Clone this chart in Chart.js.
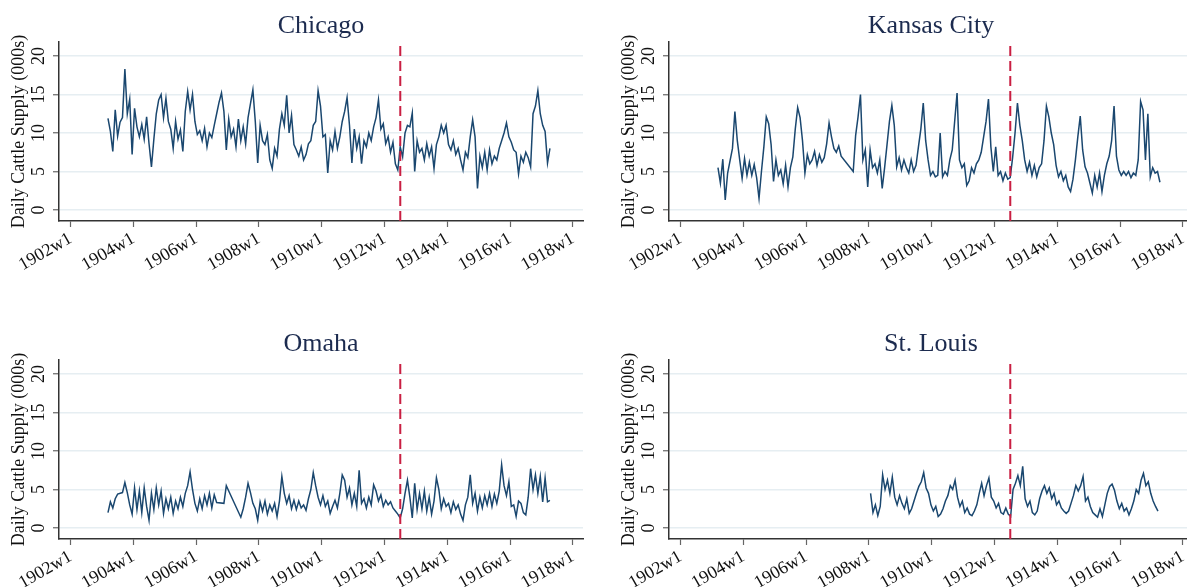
<!DOCTYPE html>
<html>
<head>
<meta charset="utf-8">
<script src="https://cdn.jsdelivr.net/npm/chart.js@4.4.0/dist/chart.umd.min.js"></script>
<style>
  body { margin: 0; background: #fff; overflow: hidden; width: 1187px; height: 587px; position: relative; }
  .panel { position: absolute; width: 600px; height: 300px; }
</style>
</head>
<body>
<div class="panel" style="left:0;top:0"><canvas id="chicago" width="600" height="300"></canvas></div>
<div class="panel" style="left:610px;top:0"><canvas id="kansas" width="600" height="300"></canvas></div>
<div class="panel" style="left:0;top:318px"><canvas id="omaha" width="600" height="300"></canvas></div>
<div class="panel" style="left:610px;top:318px"><canvas id="stlouis" width="600" height="300"></canvas></div>
<script>
// axis ticks and reference date
const xTickYears = [1902, 1904, 1906, 1908, 1910, 1912, 1914, 1916, 1918];
const yTickValues = [0, 5, 10, 15, 20];
const treatYear = 1912.5;
const pointsPerYear = 13; // one reading every 4 weeks

// daily cattle supply (000s), 13 readings a year
const chicagoStart = 1903.19;
const chicagoSupply = [
  11.9, 10.2, 7.6, 13.0, 9.6, 11.4, 12.0, 18.3, 12.5, 14.4, 7.2, 13.2, 10.8,
  9.5, 11.1, 9.2, 12.1, 8.6, 5.6, 9.2, 12.5, 14.3, 15.0, 12.0, 14.5, 11.5,
  10.5, 8.0, 11.5, 9.2, 10.4, 7.6, 12.8, 15.4, 13.0, 15.0, 11.5, 9.8, 10.3,
  9.0, 10.6, 8.2, 10.0, 9.4, 11.0, 12.5, 14.0, 15.2, 12.8, 7.8, 11.8, 9.5,
  10.5, 8.2, 11.8, 9.0, 10.8, 8.6, 12.0, 13.8, 15.6, 11.5, 6.1, 11.0, 9.0,
  8.5, 9.8, 6.5, 5.4, 8.0, 7.0, 10.5, 12.5, 11.0, 14.9, 10.0, 12.3, 8.5,
  7.8, 7.0, 8.2, 6.5, 7.2, 8.6, 9.0, 11.0, 11.5, 15.5, 13.5, 9.5, 9.8,
  4.8, 9.0, 7.8, 10.2, 8.0, 9.5, 11.5, 12.8, 14.6, 11.0, 6.1, 10.5, 8.0,
  9.5, 6.0, 9.0, 8.2, 10.0, 9.0, 10.8, 12.0, 14.3, 10.5, 11.2, 8.6, 9.5,
  7.5, 8.8, 6.0, 5.2, 8.2, 6.9, 10.0, 11.0, 10.8, 12.6, 5.0, 9.0, 7.5,
  8.0, 6.5, 8.6, 7.0, 8.2, 5.4, 8.5, 9.5, 11.0, 10.0, 11.0, 8.5, 7.8,
  9.0, 7.2, 8.0, 6.5, 5.2, 7.5, 6.8, 9.5, 11.7, 9.5, 2.8, 7.0, 5.5,
  7.5, 5.2, 7.8, 6.0, 7.0, 6.5, 8.0, 9.0, 10.0, 11.3, 9.5, 8.8, 7.8,
  7.5, 4.7, 7.0, 6.2, 7.5, 6.8, 5.6, 12.5, 13.5, 15.5, 12.5, 11.0, 10.2,
  6.1, 8.0
];

const kansasStart = 1903.19;
const kansasSupply = [
  5.5, 3.5, 6.6, 1.3, 4.8, null, 8.0, 12.8, 9.0, 6.5, 4.1, 6.7, 4.5,
  6.2, 4.5, 5.9, 4.2, 1.5, 5.0, 8.2, 12.1, 11.2, 8.5, 3.7, 6.5, 4.5,
  5.2, 3.4, 5.8, 3.0, 5.5, 6.9, 10.5, 13.3, 12.0, 9.0, 4.8, 7.2, 6.0,
  6.5, 7.6, 5.8, 7.2, 6.2, 6.8, 8.6, 11.3, 9.5, 8.0, 7.5, 8.3, 7.0,
  null, null, null, null, 5.0, 9.7, 12.1, 15.0, 6.5, 7.8, 3.0, 7.8, 5.5,
  6.0, 4.8, 6.5, 2.8, 5.5, 8.5, 11.5, 13.6, 11.0, 5.6, 6.8, 5.2, 6.5,
  5.5, 4.8, 6.5, 5.0, 5.8, 8.2, 10.5, 13.9, 9.0, 6.5, 4.5, 5.0, 4.3,
  4.5, 10.0, 4.3, 5.0, 4.5, 6.5, 7.8, 11.5, 15.2, 6.5, 5.5, 6.0, 3.2,
  3.8, 5.5, 4.8, 6.0, 6.5, 7.5, 9.5, 11.5, 14.4, 8.2, 5.0, 8.2, 4.5,
  5.0, 3.8, 4.8, 4.0, 4.2, 6.8, 10.0, 13.9, 11.0, 9.0, 6.5, 5.0, 6.2,
  4.5, 5.8, 4.3, 5.5, 6.0, 9.0, 13.5, 12.1, 10.0, 8.5, 5.8, 4.3, 5.0,
  3.8, 4.5, 3.0, 2.4, 4.0, 6.5, 9.5, 12.2, 7.8, 5.6, 4.8, 3.5, 2.2,
  4.5, 3.0, 4.8, 2.4, 4.5, 6.0, 7.0, 9.0, 13.5, 7.0, 5.2, 4.5, 5.0,
  4.5, 5.0, 4.2, 4.8, 4.5, 6.5, 14.1, 13.0, 6.5, 12.5, 4.3, 5.5, 4.8,
  5.0, 3.6
];

const omahaStart = 1903.19;
const omahaSupply = [
  2.0, 3.4, 2.6, 3.8, 4.4, null, 4.6, 5.9, 4.6, 3.0, 1.8, 5.2, 2.4,
  4.8, 2.0, 5.2, 2.8, 1.0, 4.5, 2.4, 5.2, 3.0, 4.8, 1.9, 3.8, 2.5,
  4.0, 1.9, 3.5, 2.5, 4.0, 2.8, 4.5, 5.5, 7.3, 5.0, 3.2, 2.2, 3.8,
  2.5, 4.2, 3.0, 4.5, 2.6, 4.3, 3.3, null, null, 3.2, 5.5, 4.8, null,
  null, null, null, 1.4, 2.5, 4.0, 5.8, 4.6, 3.2, 2.5, 1.0, 3.4, 2.2,
  3.5, 1.8, 3.0, 2.2, 3.2, 1.5, 3.5, 6.7, 4.5, 3.2, 4.2, 2.5, 3.6,
  2.4, 3.5, 2.6, 3.0, 2.3, 3.8, 5.0, 7.2, 5.5, 4.0, 3.0, 4.2, 2.8,
  3.5, 1.9, 2.8, 3.6, 2.6, 4.5, 6.9, 6.2, 4.0, 5.2, 3.0, 4.5, 2.8,
  7.5, 3.2, 3.8, 2.6, 4.0, 3.0, 5.6, 4.8, 3.5, 4.3, 2.8, 3.6, 3.0,
  3.4, 2.6, 2.2, 1.8, 1.3, 2.5, 4.5, 6.2, 4.0, 1.3, 5.8, 2.4, 4.5,
  2.5, 4.8, 2.2, 4.0, 1.8, 3.5, 6.5, 5.0, 2.5, 3.8, 2.8, 3.2, 2.0,
  3.4, 2.4, 3.0, 1.8, 1.0, 3.0, 4.0, 6.9, 3.2, 4.5, 2.2, 4.0, 2.6,
  4.2, 3.0, 4.5, 2.8, 4.4, 3.2, 4.8, 8.2, 5.5, 4.2, 6.0, 2.8, 3.0,
  1.5, 3.5, 3.2, 2.0, 1.7, 4.0, 7.7, 5.0, 6.9, 4.5, 6.7, 3.4, 6.5,
  3.4, 3.6
];

const stLouisStart = 1908.05;
const stLouisSupply = [
  4.5, 2.0, 3.0, 1.6, 2.8, 6.9, 5.0, 6.2, 4.5, 6.6, 4.0, 3.0, 4.2,
  3.2, 2.5, 3.8, 1.9, 2.5, 3.5, 4.5, 5.4, 6.0, 7.2, 5.2, 4.5, 3.0,
  2.2, 2.8, 1.5, 1.8, 2.5, 3.5, 4.2, 5.5, 5.0, 6.2, 4.0, 2.8, 3.5,
  2.0, 2.6, 1.8, 1.6, 2.2, 3.0, 4.5, 5.8, 4.2, 5.5, 6.5, 4.0, 3.5,
  2.6, 3.2, 2.0, 1.8, 2.6, 1.8, 1.5, 5.0, 5.8, 6.8, 5.5, 8.0, 3.8,
  2.8, 3.5, 2.0, 1.7, 2.2, 3.8, 4.8, 5.5, 4.5, 5.2, 3.8, 4.5, 3.0,
  3.5, 2.6, 2.2, 1.9, 2.2, 3.2, 4.2, 5.5, 4.8, 5.5, 6.7, 3.5, 4.0,
  2.8, 2.0, 1.7, 1.4, 2.5, 1.5, 3.0, 4.5, 5.4, 5.7, 4.9, 3.5, 2.5,
  3.2, 2.2, 2.6, 1.7, 2.5, 3.5, 5.0, 4.5, 6.2, 7.1, 5.5, 6.0, 4.5,
  3.5, 2.8, 2.2
];

const xMin = 1901.63, xMax = 1918.32;
const yMin = -1.43, yMax = 21.82;

const serif = '"Liberation Serif", "DejaVu Serif", serif';

// title, y tick labels and y axis title are drawn by hand (rotated)
const panelText = {
  id: 'panelText',
  afterDraw(chart, args, opts) {
    const { ctx, chartArea, scales } = chart;
    ctx.save();
    ctx.fillStyle = '#1c2b4f';
    ctx.font = '26px ' + serif;
    ctx.textAlign = 'center';
    ctx.textBaseline = 'alphabetic';
    ctx.fillText(opts.title, (chartArea.left + chartArea.right) / 2, 33);

    ctx.fillStyle = '#111';
    ctx.font = '18px ' + serif;
    yTickValues.forEach(v => {
      ctx.save();
      ctx.translate(44, scales.y.getPixelForValue(v));
      ctx.rotate(-Math.PI / 2);
      ctx.fillText(String(v), 0, 0);
      ctx.restore();
    });

    ctx.translate(24, (chartArea.top + chartArea.bottom) / 2);
    ctx.rotate(-Math.PI / 2);
    ctx.fillText(opts.axisTitle, 0, 0);
    ctx.restore();
  }
};

function makePanel(id, title, start, values) {
  const points = values.map((v, i) => ({ x: start + i / pointsPerYear, y: v }));
  const cutoff = [{ x: treatYear, y: yMin }, { x: treatYear, y: yMax }];

  return new Chart(document.getElementById(id), {
    type: 'line',
    data: {
      datasets: [
        {
          data: cutoff,
          borderColor: '#c91f42',
          borderWidth: 2,
          borderDash: [10, 5],
          pointRadius: 0,
          order: 1
        },
        {
          data: points,
          borderColor: '#1a476f',
          borderWidth: 1.5,
          pointRadius: 0,
          tension: 0,
          spanGaps: true,
          order: 2
        }
      ]
    },
    options: {
      responsive: false,
      animation: false,
      events: [],
      layout: { padding: { top: 42, right: 17, left: 0, bottom: 0 } },
      plugins: {
        legend: { display: false },
        tooltip: { enabled: false },
        panelText: { title: title, axisTitle: 'Daily Cattle Supply (000s)' }
      },
      scales: {
        x: {
          type: 'linear',
          min: xMin,
          max: xMax,
          afterBuildTicks: s => { s.ticks = xTickYears.map(v => ({ value: v })); },
          afterFit: s => { s.height = 79; },
          ticks: {
            callback: v => v + 'w1',
            minRotation: 30,
            maxRotation: 30,
            color: '#111',
            padding: 1,
            font: { family: serif, size: 18 }
          },
          grid: { drawOnChartArea: false, tickLength: 6, tickColor: '#666', tickWidth: 1.2 },
          border: { color: '#333', width: 1.5 }
        },
        y: {
          min: yMin,
          max: yMax,
          afterBuildTicks: s => { s.ticks = yTickValues.map(v => ({ value: v })); },
          afterFit: s => { s.width = 59; },
          ticks: { display: false },
          grid: { color: '#e6eef2', lineWidth: 1.5, tickLength: 6, tickColor: '#666', tickWidth: 1.2 },
          border: { color: '#333', width: 1.5 }
        }
      }
    },
    plugins: [panelText]
  });
}

makePanel('chicago', 'Chicago', chicagoStart, chicagoSupply);
makePanel('kansas', 'Kansas City', kansasStart, kansasSupply);
makePanel('omaha', 'Omaha', omahaStart, omahaSupply);
makePanel('stlouis', 'St. Louis', stLouisStart, stLouisSupply);
</script>
</body>
</html>
